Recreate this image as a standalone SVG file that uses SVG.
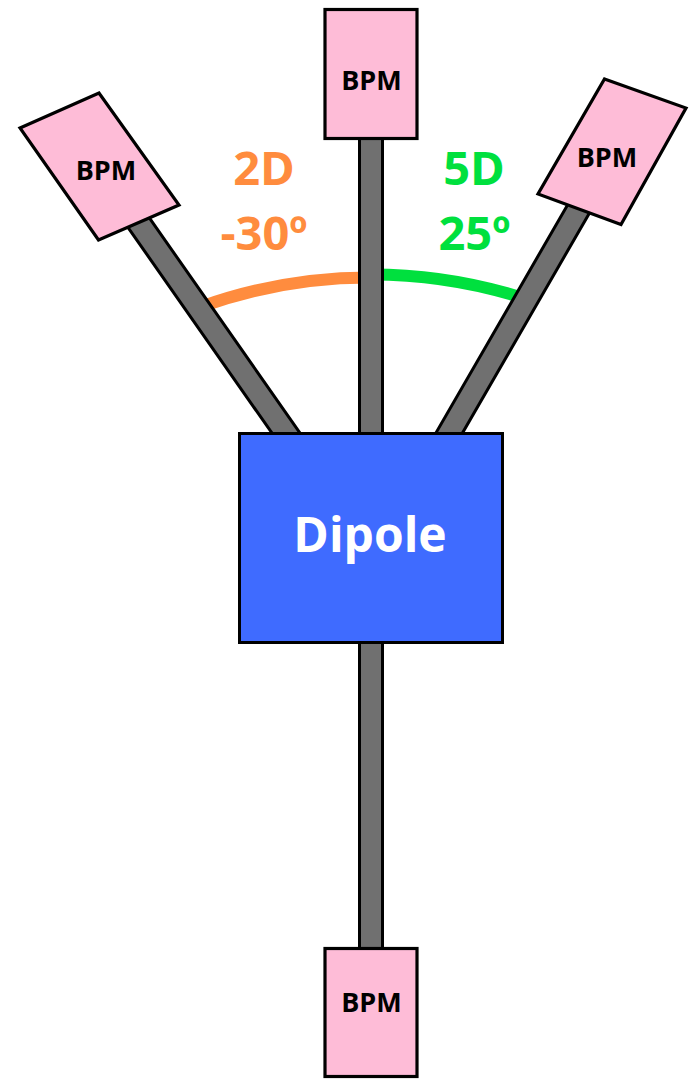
<svg xmlns="http://www.w3.org/2000/svg" width="691" height="1080" viewBox="0 0 691 1080">
  <style>
    .beam { fill: #707070; stroke: #000; stroke-width: 3; }
    .bpm { fill: #FEBCD7; stroke: #000; stroke-width: 3.2; stroke-linejoin: miter; }
    .bpm-label { font-family: "Open Sans", Lato, "Liberation Sans", sans-serif; font-weight: bold; font-size: 27px; fill: #000; text-anchor: middle; }
    .angle { font-family: "Open Sans", Lato, "Liberation Sans", sans-serif; font-weight: bold; font-size: 47px; text-anchor: middle; }
    .arc { fill: none; stroke-width: 12; stroke-linecap: butt; }
  </style>

  <rect width="691" height="1080" fill="#fff"/>

  <!-- angle arcs, drawn beneath the beams -->
  <g id="angle-arcs">
    <path class="arc" stroke="#FF8C3E" d="M 200 307.1 A 501 501 0 0 1 371 277.5"/>
    <path class="arc" stroke="#00E03E" d="M 371 274.5 A 501 501 0 0 1 529 300"/>
  </g>

  <!-- beam pipes joining the dipole to each BPM -->
  <g id="connectors">
    <rect class="beam" x="359.5" y="100" width="23" height="880"/>
    <rect class="beam" x="-11.5" y="0" width="23" height="375" transform="translate(99,166) rotate(-35)"/>
    <rect class="beam" x="-11.5" y="0" width="23" height="372" transform="translate(612,151) rotate(30)"/>
  </g>

  <g id="bpm-top">
    <rect class="bpm" x="325" y="9.5" width="92" height="129"/>
    <text class="bpm-label" x="371.5" y="90">BPM</text>
  </g>

  <g id="bpm-left">
    <polygon class="bpm" points="20,128 99,93 179,205 98.5,240"/>
    <text class="bpm-label" x="106" y="180">BPM</text>
  </g>

  <g id="bpm-right">
    <polygon class="bpm" points="604.5,79 686,108 621,224.5 538,194"/>
    <text class="bpm-label" x="607" y="167">BPM</text>
  </g>

  <g id="bpm-bottom">
    <rect class="bpm" x="325" y="948.5" width="92" height="128"/>
    <text class="bpm-label" x="371.5" y="1012">BPM</text>
  </g>

  <g id="dipole">
    <rect x="239.5" y="433.5" width="263" height="209" fill="#3F6BFF" stroke="#000" stroke-width="3"/>
    <text x="370" y="552" font-family="'Open Sans', Lato, 'Liberation Sans', sans-serif" font-weight="bold" font-size="48" fill="#fff" text-anchor="middle">Dipole</text>
  </g>

  <g id="label-2d">
    <text class="angle" fill="#FF8C3E" x="264" y="185">2D</text>
    <text class="angle" fill="#FF8C3E" x="264" y="250">-30º</text>
  </g>

  <g id="label-5d">
    <text class="angle" fill="#00E03E" x="474" y="185">5D</text>
    <text class="angle" fill="#00E03E" x="474.5" y="250">25º</text>
  </g>
</svg>
